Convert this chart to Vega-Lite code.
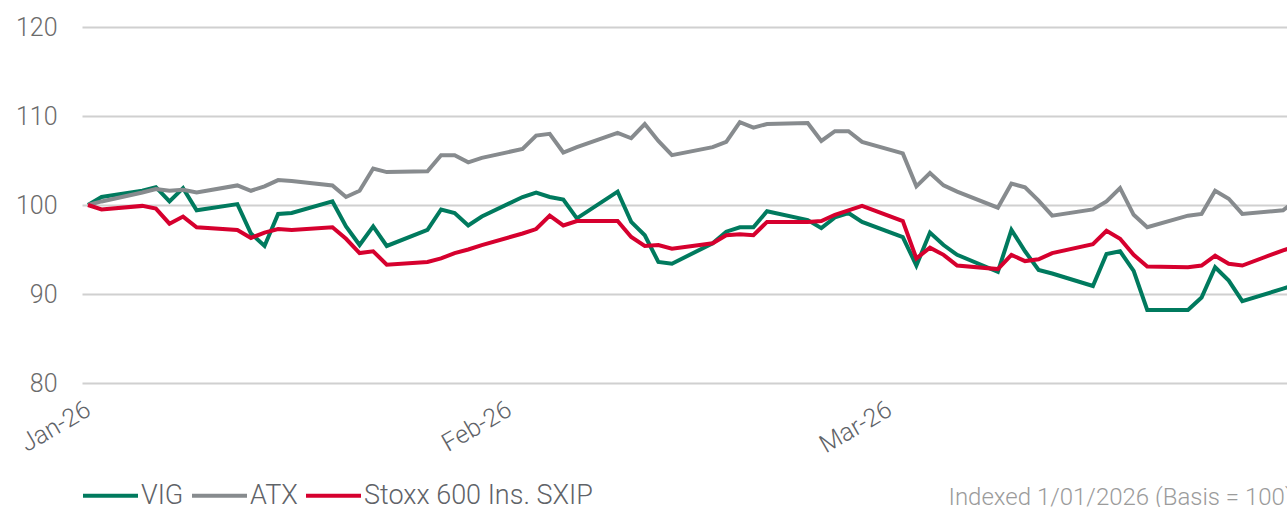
{
  "$schema": "https://vega.github.io/schema/vega-lite/v6.json",
  "width": 1205,
  "height": 356,
  "autosize": "none",
  "padding": {"left": 82, "top": 27, "right": 0, "bottom": 124},
  "background": "white",
  "config": {"view": {"stroke": null}, "font": "Roboto"},
  "data": {
    "values": [
      {"date": "2026-01-01", "VIG": 100.0, "ATX": 100.0, "SXIP": 100.0},
      {"date": "2026-01-02", "VIG": 100.9, "ATX": 100.4, "SXIP": 99.5},
      {"date": "2026-01-05", "VIG": 101.6, "ATX": 101.4, "SXIP": 99.9},
      {"date": "2026-01-06", "VIG": 102.0, "ATX": 101.8, "SXIP": 99.6},
      {"date": "2026-01-07", "VIG": 100.4, "ATX": 101.6, "SXIP": 97.9},
      {"date": "2026-01-08", "VIG": 101.9, "ATX": 101.7, "SXIP": 98.7},
      {"date": "2026-01-09", "VIG": 99.4, "ATX": 101.4, "SXIP": 97.5},
      {"date": "2026-01-12", "VIG": 100.1, "ATX": 102.2, "SXIP": 97.2},
      {"date": "2026-01-13", "VIG": 96.8, "ATX": 101.6, "SXIP": 96.3},
      {"date": "2026-01-14", "VIG": 95.4, "ATX": 102.1, "SXIP": 96.9},
      {"date": "2026-01-15", "VIG": 99.0, "ATX": 102.8, "SXIP": 97.3},
      {"date": "2026-01-16", "VIG": 99.1, "ATX": 102.7, "SXIP": 97.2},
      {"date": "2026-01-19", "VIG": 100.4, "ATX": 102.2, "SXIP": 97.5},
      {"date": "2026-01-20", "VIG": 97.6, "ATX": 100.9, "SXIP": 96.2},
      {"date": "2026-01-21", "VIG": 95.5, "ATX": 101.6, "SXIP": 94.6},
      {"date": "2026-01-22", "VIG": 97.6, "ATX": 104.1, "SXIP": 94.8},
      {"date": "2026-01-23", "VIG": 95.4, "ATX": 103.7, "SXIP": 93.3},
      {"date": "2026-01-26", "VIG": 97.2, "ATX": 103.8, "SXIP": 93.6},
      {"date": "2026-01-27", "VIG": 99.5, "ATX": 105.6, "SXIP": 94.0},
      {"date": "2026-01-28", "VIG": 99.1, "ATX": 105.6, "SXIP": 94.6},
      {"date": "2026-01-29", "VIG": 97.7, "ATX": 104.8, "SXIP": 95.0},
      {"date": "2026-01-30", "VIG": 98.7, "ATX": 105.3, "SXIP": 95.5},
      {"date": "2026-02-02", "VIG": 100.9, "ATX": 106.3, "SXIP": 96.8},
      {"date": "2026-02-03", "VIG": 101.4, "ATX": 107.8, "SXIP": 97.3},
      {"date": "2026-02-04", "VIG": 100.9, "ATX": 108.0, "SXIP": 98.8},
      {"date": "2026-02-05", "VIG": 100.6, "ATX": 105.9, "SXIP": 97.7},
      {"date": "2026-02-06", "VIG": 98.5, "ATX": 106.5, "SXIP": 98.2},
      {"date": "2026-02-09", "VIG": 101.5, "ATX": 108.1, "SXIP": 98.2},
      {"date": "2026-02-10", "VIG": 98.1, "ATX": 107.5, "SXIP": 96.4},
      {"date": "2026-02-11", "VIG": 96.6, "ATX": 109.1, "SXIP": 95.4},
      {"date": "2026-02-12", "VIG": 93.6, "ATX": 107.2, "SXIP": 95.5},
      {"date": "2026-02-13", "VIG": 93.4, "ATX": 105.6, "SXIP": 95.1},
      {"date": "2026-02-16", "VIG": 95.7, "ATX": 106.5, "SXIP": 95.7},
      {"date": "2026-02-17", "VIG": 97.0, "ATX": 107.1, "SXIP": 96.6},
      {"date": "2026-02-18", "VIG": 97.5, "ATX": 109.3, "SXIP": 96.7},
      {"date": "2026-02-19", "VIG": 97.5, "ATX": 108.7, "SXIP": 96.6},
      {"date": "2026-02-20", "VIG": 99.3, "ATX": 109.1, "SXIP": 98.1},
      {"date": "2026-02-23", "VIG": 98.3, "ATX": 109.2, "SXIP": 98.1},
      {"date": "2026-02-24", "VIG": 97.4, "ATX": 107.2, "SXIP": 98.2},
      {"date": "2026-02-25", "VIG": 98.6, "ATX": 108.3, "SXIP": 98.9},
      {"date": "2026-02-26", "VIG": 99.1, "ATX": 108.3, "SXIP": 99.4},
      {"date": "2026-02-27", "VIG": 98.1, "ATX": 107.1, "SXIP": 99.9},
      {"date": "2026-03-02", "VIG": 96.4, "ATX": 105.8, "SXIP": 98.2},
      {"date": "2026-03-03", "VIG": 93.2, "ATX": 102.1, "SXIP": 94.0},
      {"date": "2026-03-04", "VIG": 96.9, "ATX": 103.6, "SXIP": 95.2},
      {"date": "2026-03-05", "VIG": 95.5, "ATX": 102.2, "SXIP": 94.4},
      {"date": "2026-03-06", "VIG": 94.4, "ATX": 101.5, "SXIP": 93.2},
      {"date": "2026-03-09", "VIG": 92.5, "ATX": 99.7, "SXIP": 92.8},
      {"date": "2026-03-10", "VIG": 97.2, "ATX": 102.4, "SXIP": 94.4},
      {"date": "2026-03-11", "VIG": 94.8, "ATX": 102.0, "SXIP": 93.7},
      {"date": "2026-03-12", "VIG": 92.7, "ATX": 100.5, "SXIP": 93.9},
      {"date": "2026-03-13", "VIG": 92.3, "ATX": 98.8, "SXIP": 94.6},
      {"date": "2026-03-16", "VIG": 90.9, "ATX": 99.5, "SXIP": 95.6},
      {"date": "2026-03-17", "VIG": 94.5, "ATX": 100.4, "SXIP": 97.1},
      {"date": "2026-03-18", "VIG": 94.8, "ATX": 101.9, "SXIP": 96.2},
      {"date": "2026-03-19", "VIG": 92.6, "ATX": 98.9, "SXIP": 94.4},
      {"date": "2026-03-20", "VIG": 88.2, "ATX": 97.5, "SXIP": 93.1},
      {"date": "2026-03-23", "VIG": 88.2, "ATX": 98.8, "SXIP": 93.0},
      {"date": "2026-03-24", "VIG": 89.6, "ATX": 99.0, "SXIP": 93.2},
      {"date": "2026-03-25", "VIG": 93.0, "ATX": 101.6, "SXIP": 94.3},
      {"date": "2026-03-26", "VIG": 91.5, "ATX": 100.7, "SXIP": 93.4},
      {"date": "2026-03-27", "VIG": 89.2, "ATX": 99.0, "SXIP": 93.2},
      {"date": "2026-03-30", "VIG": 90.6, "ATX": 99.4, "SXIP": 94.9},
      {"date": "2026-03-31", "VIG": 91.1, "ATX": 100.6, "SXIP": 95.4}
    ]
  },
  "transform": [
    {"fold": ["VIG", "ATX", "SXIP"], "as": ["series", "value"]}
  ],
  "mark": {"type": "line", "strokeWidth": 4, "clip": true},
  "encoding": {
    "x": {
      "field": "date",
      "type": "temporal",
      "scale": {
        "type": "utc",
        "domain": [1767187440000, 1774854000000]
      },
      "axis": {
        "values": [1767225600000, 1769904000000, 1772323200000],
        "labelExpr": "utcFormat(datum.value, '%b-%y')",
        "labelAngle": -30,
        "labelAlign": "right",
        "labelBaseline": "middle",
        "labelFontSize": 25,
        "labelFont": "Roboto",
        "labelFontWeight": 300,
        "labelColor": "#5f6368",
        "labelPadding": 24,
        "labelOverlap": false,
        "labelFlush": false,
        "labelBound": false,
        "grid": false,
        "domain": false,
        "ticks": false,
        "title": "Indexed 1/01/2026 (Basis = 100)",
        "titleFont": "Roboto",
        "titleFontSize": 24,
        "titleFontWeight": 300,
        "titleColor": "#9b9b9b",
        "titleAlign": "left",
        "titleAnchor": "start",
        "titleBaseline": "alphabetic",
        "titleX": 866,
        "titleY": 121
      }
    },
    "y": {
      "field": "value",
      "type": "quantitative",
      "scale": {"domain": [80, 120], "nice": false, "zero": false},
      "axis": {
        "values": [80, 90, 100, 110, 120],
        "grid": true,
        "gridColor": "#d0d0d0",
        "gridWidth": 2,
        "domain": false,
        "ticks": false,
        "labelFontSize": 25,
        "labelFont": "Roboto",
        "labelFontWeight": 300,
        "labelColor": "#6b6b6b",
        "labelPadding": 25,
        "title": null
      }
    },
    "color": {
      "field": "series",
      "type": "nominal",
      "scale": {
        "domain": ["VIG", "ATX", "SXIP"],
        "range": ["#007A5E", "#878B8E", "#D6002E"]
      },
      "legend": {
        "orient": "none",
        "legendX": -1,
        "legendY": 439,
        "direction": "horizontal",
        "title": null,
        "symbolType": "stroke",
        "symbolSize": 3025,
        "symbolStrokeWidth": 4,
        "labelFontSize": 27,
        "labelFont": "Roboto",
        "labelFontWeight": 300,
        "labelColor": "#5f6368",
        "labelOffset": 1,
        "columnPadding": 0,
        "padding": 0,
        "labelLimit": 400,
        "labelExpr": "datum.label == 'SXIP' ? 'Stoxx 600 Ins. SXIP' : datum.label"
      }
    }
  }
}
